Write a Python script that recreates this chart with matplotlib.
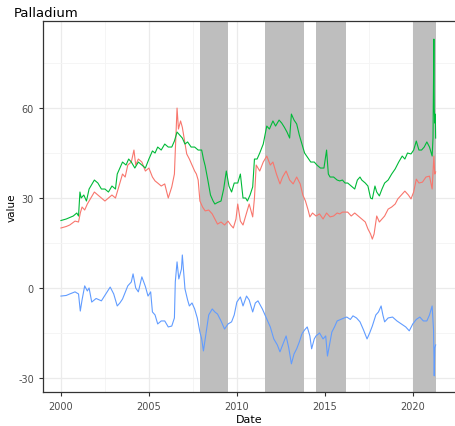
import matplotlib
matplotlib.use("Agg")
import matplotlib.pyplot as plt
import numpy as np

plt.rcParams["axes.unicode_minus"] = False

# decimal years and values
green_t = [2000.0, 2000.3, 2000.5, 2000.7, 2000.9, 2001.0, 2001.08, 2001.15, 2001.3, 2001.45,
           2001.6, 2001.8, 2001.9, 2002.1, 2002.3, 2002.5, 2002.7, 2002.9, 2003.1, 2003.2,
           2003.35, 2003.5, 2003.7, 2003.85, 2004.0, 2004.2, 2004.4, 2004.6, 2004.8, 2005.0,
           2005.2, 2005.35, 2005.5, 2005.7, 2005.9, 2006.1, 2006.3, 2006.45, 2006.6, 2006.75,
           2006.9, 2007.05, 2007.2, 2007.4, 2007.6, 2007.8, 2008.0, 2008.1, 2008.2, 2008.35,
           2008.5, 2008.65, 2008.75, 2008.9, 2009.1, 2009.25, 2009.4, 2009.55, 2009.7, 2009.85,
           2010.05, 2010.2, 2010.35, 2010.5, 2010.6, 2010.75, 2010.9, 2011.0, 2011.15, 2011.3,
           2011.5, 2011.7, 2011.85, 2012.05, 2012.2, 2012.4, 2012.55, 2012.7, 2012.85, 2013.0,
           2013.1, 2013.25, 2013.4, 2013.55, 2013.7, 2013.85, 2014.0, 2014.2, 2014.4, 2014.55,
           2014.75, 2014.95, 2015.1, 2015.2, 2015.3, 2015.5, 2015.7, 2015.85, 2016.0, 2016.15,
           2016.3, 2016.5, 2016.7, 2016.85, 2017.0, 2017.1, 2017.3, 2017.45, 2017.6, 2017.7,
           2017.85, 2017.95, 2018.1, 2018.25, 2018.4, 2018.6, 2018.8, 2019.0, 2019.2, 2019.4,
           2019.55, 2019.7, 2019.9, 2020.05, 2020.2, 2020.35, 2020.5, 2020.65, 2020.8, 2020.95,
           2021.1, 2021.15, 2021.18, 2021.2, 2021.22, 2021.25, 2021.28, 2021.3]
green_v = [22.5, 23, 23.5, 24, 25, 24, 32, 30, 31, 29,
           33, 35, 36, 35, 33, 33, 32, 34, 33, 38,
           40, 42, 41, 43, 42, 40, 42, 41, 40, 43,
           45.7, 45, 47, 46, 48, 47, 47, 49, 52, 51,
           50, 48, 48.7, 47, 47, 46, 46, 43, 40.7, 36,
           31, 29, 28, 28.5, 29, 33, 39, 34, 32, 35,
           35, 38, 30, 30, 29, 31, 33.7, 43, 43, 45,
           48, 54, 53, 55.7, 54, 56, 55, 53.6, 52, 50,
           58, 56, 54.7, 51, 48, 45, 43.7, 42, 42, 41,
           40, 40, 46, 38, 37, 37, 36, 35.7, 36, 35,
           35, 34, 33, 36, 37, 36, 35, 34, 30, 29.7,
           34, 32, 30.7, 33, 35, 36, 38, 39.7, 42, 44,
           43, 45, 44.7, 46, 49, 46, 46, 47, 48.7, 47,
           44, 50, 70, 83, 60, 55, 58, 50]

red_t = [2000.0, 2000.3, 2000.5, 2000.8, 2001.0, 2001.1, 2001.2, 2001.35, 2001.5, 2001.7,
         2001.9, 2002.1, 2002.3, 2002.5, 2002.7, 2002.9, 2003.1, 2003.3, 2003.5, 2003.65,
         2003.8, 2004.0, 2004.15, 2004.25, 2004.4, 2004.6, 2004.8, 2005.0, 2005.2, 2005.35,
         2005.5, 2005.7, 2005.9, 2006.1, 2006.3, 2006.45, 2006.5, 2006.6, 2006.68, 2006.8,
         2006.9, 2007.0, 2007.15, 2007.3, 2007.45, 2007.6, 2007.7, 2007.8, 2007.9, 2008.05,
         2008.2, 2008.4, 2008.6, 2008.75, 2008.9, 2009.1, 2009.3, 2009.5, 2009.65, 2009.8,
         2009.95, 2010.05, 2010.2, 2010.35, 2010.5, 2010.7, 2010.9, 2011.0, 2011.1, 2011.3,
         2011.5, 2011.7, 2011.9, 2012.05, 2012.25, 2012.45, 2012.6, 2012.8, 2013.0, 2013.2,
         2013.4, 2013.6, 2013.75, 2013.9, 2014.05, 2014.15, 2014.3, 2014.5, 2014.7, 2014.9,
         2015.1, 2015.3, 2015.5, 2015.7, 2015.85, 2016.0, 2016.3, 2016.5, 2016.7, 2016.9,
         2017.1, 2017.3, 2017.45, 2017.6, 2017.7, 2017.8, 2017.95, 2018.1, 2018.25, 2018.4,
         2018.6, 2018.8, 2019.0, 2019.15, 2019.35, 2019.55, 2019.75, 2019.9, 2020.05, 2020.2,
         2020.35, 2020.55, 2020.75, 2020.95, 2021.1, 2021.2, 2021.25, 2021.3]
red_v = [20, 20.5, 21, 22.3, 22, 25, 27, 26, 28, 30,
         32, 31, 30, 29, 30, 31, 30, 34, 38, 37,
         41, 42, 46, 41, 43, 42, 39, 40, 37, 35.7,
         35, 34, 34.7, 30, 33.7, 38, 45.7, 60, 53, 55.7,
         53.6, 50, 44.7, 43, 41, 39, 38, 36, 29, 27,
         25.7, 26, 24.7, 23, 21.3, 22, 21, 22.3, 21, 20,
         23, 28, 22.3, 21, 24, 28, 23.7, 30, 41, 39,
         42, 44, 41, 42, 38, 34.7, 37, 39, 36, 34.7,
         37, 34.7, 31, 29, 26, 23.7, 25, 24, 24.7, 23,
         25, 23.7, 24, 25, 24.7, 25.3, 25.3, 24, 25, 24,
         23, 22, 19.7, 18, 16.3, 18, 24, 22, 23, 24,
         26.3, 27, 28, 29.7, 31, 32.3, 31, 29.7, 32, 36.3,
         35, 35.3, 37, 37.3, 33, 44, 38, 38.7]

blue_t = [2000.0, 2000.3, 2000.5, 2000.8, 2001.0, 2001.1, 2001.2, 2001.35, 2001.5, 2001.6,
          2001.75, 2002.0, 2002.3, 2002.55, 2002.8, 2003.0, 2003.2, 2003.35, 2003.5, 2003.65,
          2003.8, 2004.0, 2004.1, 2004.25, 2004.4, 2004.6, 2004.8, 2004.95, 2005.1, 2005.2,
          2005.35, 2005.5, 2005.7, 2005.9, 2006.1, 2006.3, 2006.45, 2006.5, 2006.6, 2006.7,
          2006.85, 2006.9, 2007.05, 2007.2, 2007.3, 2007.45, 2007.6, 2007.75, 2007.9, 2008.0,
          2008.1, 2008.25, 2008.4, 2008.6, 2008.75, 2008.9, 2009.1, 2009.3, 2009.5, 2009.7,
          2009.85, 2010.0, 2010.2, 2010.35, 2010.55, 2010.7, 2010.9, 2011.05, 2011.2, 2011.45,
          2011.7, 2011.9, 2012.1, 2012.3, 2012.45, 2012.6, 2012.8, 2012.95, 2013.1, 2013.25,
          2013.4, 2013.55, 2013.7, 2013.85, 2014.0, 2014.15, 2014.25, 2014.4, 2014.5, 2014.7,
          2014.9, 2015.05, 2015.15, 2015.3, 2015.4, 2015.55, 2015.7, 2015.9, 2016.1, 2016.25,
          2016.45, 2016.6, 2016.8, 2017.0, 2017.2, 2017.4, 2017.55, 2017.7, 2017.9, 2018.05,
          2018.2, 2018.3, 2018.4, 2018.6, 2018.85, 2019.1, 2019.35, 2019.6, 2019.8, 2020.0,
          2020.2, 2020.4, 2020.6, 2020.8, 2020.95, 2021.1, 2021.18, 2021.22, 2021.25, 2021.3]
blue_v = [-2.7, -2.5, -2, -1.3, -2, -7.7, -4, 0.7, -1, 0,
          -4.7, -3.5, -4.3, -2, 0.3, -2, -6, -5, -3.7, -1.5,
          0.7, 2, 4.7, 0, -1.3, 3.7, 0.5, -2.7, -1.3, -8,
          -9, -12, -11, -11, -13, -12.7, -10, 2, 8.7, 3,
          6.3, 11, -0.3, -4, -6, -5, -7, -10, -14.7, -17,
          -21, -15, -9, -7, -8, -8.7, -11, -13.7, -12, -11.3,
          -9, -4.7, -3, -6, -2.7, -4, -8, -5, -4.3, -7,
          -10.3, -13, -17, -19, -21.3, -19, -16, -20, -25.3, -22,
          -20.3, -18, -15.3, -14, -13, -16, -20.3, -17, -16, -15,
          -17, -16, -22.7, -18, -14.7, -13, -11, -10.5, -10, -9.7,
          -10.5, -9.3, -10, -11.3, -14, -17, -15, -12.7, -9, -8,
          -6, -9, -11.3, -10, -9.7, -11, -12, -13, -14.3, -12,
          -10.5, -9.7, -11, -11, -9, -6, -14, -29.3, -20, -19]

# shaded periods
shade_start = [2007.9, 2011.6, 2014.5, 2020.0]
shade_end = [2009.5, 2013.8, 2016.2, 2021.3]

fig = plt.figure(figsize=(4.55, 4.27), dpi=100)
ax = fig.add_axes([0.0945, 0.0796, 0.9055, 0.8686])

ax.set_xlim(1998.98, 2022.4)
ax.set_ylim(-34.7, 89)

ax.set_xticks([2000, 2005, 2010, 2015, 2020])
ax.set_xticks([2002.5, 2007.5, 2012.5, 2017.5], minor=True)
ax.set_yticks([-30, 0, 30, 60])
ax.set_yticks([-15, 15, 45, 75], minor=True)
ax.grid(True, which="major", color="#EBEBEB", linewidth=0.9)
ax.grid(True, which="minor", color="#F4F4F4", linewidth=0.6)
ax.set_axisbelow(True)

for s, e in zip(shade_start, shade_end):
    ax.axvspan(s, e, color="#BEBEBE", lw=0, zorder=1)

ax.plot(red_t, red_v, color="#F8766D", lw=0.8, zorder=2)
ax.plot(green_t, green_v, color="#00BA38", lw=0.8, zorder=3)
ax.plot(blue_t, blue_v, color="#619CFF", lw=0.8, zorder=3)

for side in ["left", "bottom", "top"]:
    ax.spines[side].set_color("#333333")
    ax.spines[side].set_linewidth(0.9)
ax.spines["right"].set_visible(False)

ax.tick_params(which="major", length=3, color="#333333", labelcolor="#4D4D4D", labelsize=7)
ax.tick_params(which="minor", length=0)

ax.set_xlabel("Date", fontsize=8, labelpad=2)
ax.set_ylabel("value", fontsize=7.5, labelpad=1)
ax.set_title("Palladium", loc="left", fontsize=9.5, x=-0.07, pad=4)

fig.savefig("out.png", dpi=100)
